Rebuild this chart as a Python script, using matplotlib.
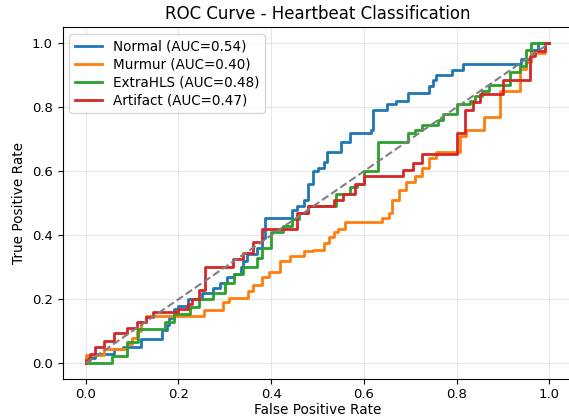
import matplotlib
matplotlib.use("Agg")
import matplotlib.pyplot as plt

# step corners: (fpr where the curve rises, tpr after the rise)
normal_fpr = [0, 0, 0.02, 0.06, 0.08, 0.12, 0.165, 0.175, 0.18, 0.19, 0.2, 0.22, 0.25, 0.275, 0.29,
              0.305, 0.32, 0.335, 0.34, 0.348, 0.37, 0.38, 0.387, 0.445, 0.455, 0.47, 0.48, 0.49,
              0.5, 0.515, 0.52, 0.55, 0.57, 0.615, 0.62, 0.65, 0.67, 0.695, 0.74, 0.75, 0.755,
              0.79, 0.815, 0.94, 0.96, 0.975, 1.0]
normal_tpr = [0, 0.015, 0.03, 0.045, 0.05, 0.075, 0.105, 0.12, 0.14, 0.17, 0.18, 0.2, 0.22, 0.235, 0.25,
              0.27, 0.28, 0.30, 0.32, 0.34, 0.36, 0.39, 0.455, 0.48, 0.49, 0.51, 0.56, 0.6,
              0.61, 0.63, 0.66, 0.69, 0.72, 0.73, 0.79, 0.81, 0.82, 0.845, 0.865, 0.885, 0.90,
              0.917, 0.935, 0.95, 0.98, 1.0, 1.0]

murmur_fpr = [0, 0, 0.04, 0.09, 0.1, 0.11, 0.12, 0.13, 0.255, 0.297, 0.31, 0.35, 0.36, 0.38, 0.395,
              0.42, 0.44, 0.47, 0.49, 0.515, 0.525, 0.535, 0.545, 0.56, 0.64, 0.655, 0.66, 0.675,
              0.69, 0.71, 0.725, 0.74, 0.755, 0.807, 0.82, 0.86, 0.894, 0.937, 0.95, 0.96, 0.99, 1.0]
murmur_tpr = [0, 0.025, 0.045, 0.06, 0.08, 0.1, 0.13, 0.147, 0.168, 0.19, 0.205, 0.225, 0.245, 0.27, 0.285,
              0.32, 0.335, 0.35, 0.355, 0.375, 0.395, 0.41, 0.42, 0.44, 0.455, 0.47, 0.51, 0.54,
              0.565, 0.585, 0.61, 0.64, 0.66, 0.71, 0.73, 0.77, 0.85, 0.92, 0.94, 0.97, 1.0, 1.0]

extrahls_fpr = [0, 0.057, 0.09, 0.113, 0.17, 0.19, 0.225, 0.245, 0.275, 0.3, 0.32, 0.34, 0.37, 0.38,
                0.4, 0.425, 0.445, 0.46, 0.48, 0.54, 0.57, 0.585, 0.6, 0.63, 0.695, 0.71, 0.725,
                0.76, 0.77, 0.8, 0.83, 0.84, 0.855, 0.87, 0.915, 0.937, 0.95, 0.96, 1.0]
extrahls_tpr = [0, 0.022, 0.065, 0.106, 0.13, 0.153, 0.175, 0.2, 0.22, 0.25, 0.28, 0.30, 0.33, 0.36,
                0.41, 0.43, 0.45, 0.47, 0.49, 0.53, 0.55, 0.56, 0.6, 0.69, 0.72, 0.73, 0.745,
                0.76, 0.78, 0.81, 0.82, 0.835, 0.85, 0.87, 0.91, 0.93, 0.98, 1.0, 1.0]

artifact_fpr = [0, 0, 0.01, 0.02, 0.04, 0.06, 0.09, 0.11, 0.13, 0.145, 0.2, 0.22, 0.23, 0.245, 0.258,
                0.318, 0.34, 0.36, 0.38, 0.455, 0.48, 0.535, 0.555, 0.58, 0.6, 0.685, 0.705, 0.725,
                0.80, 0.818, 0.836, 0.85, 0.9, 0.958, 0.97, 0.99, 1.0]
artifact_tpr = [0, 0.01, 0.03, 0.05, 0.07, 0.095, 0.11, 0.13, 0.145, 0.16, 0.17, 0.185, 0.2, 0.23, 0.30,
                0.325, 0.345, 0.38, 0.42, 0.47, 0.49, 0.51, 0.53, 0.56, 0.585, 0.605, 0.625, 0.655,
                0.72, 0.79, 0.815, 0.84, 0.885, 0.96, 0.975, 1.0, 1.0]

class_names = ["Normal", "Murmur", "ExtraHLS", "Artifact"]
auc_values = [0.54, 0.40, 0.48, 0.47]
curves = [(normal_fpr, normal_tpr), (murmur_fpr, murmur_tpr),
          (extrahls_fpr, extrahls_tpr), (artifact_fpr, artifact_tpr)]

fig = plt.figure(figsize=(5.69, 4.2), dpi=100)
ax = fig.add_axes([0.11, 0.097, 0.896, 0.838])

for name, auc, (fpr, tpr) in zip(class_names, auc_values, curves):
    ax.plot(fpr, tpr, drawstyle="steps-post", linewidth=2, label=f"{name} (AUC={auc:.2f})")

ax.plot([0, 1], [0, 1], linestyle="--", color="gray", linewidth=1.5)

ax.set_title("ROC Curve - Heartbeat Classification", fontsize=12)
ax.set_xlabel("False Positive Rate", fontsize=9.8, labelpad=1.5)
ax.set_ylabel("True Positive Rate", fontsize=9.8)
ax.tick_params(labelsize=9.5)
ax.tick_params(axis="x", pad=2.5)
ax.grid(True, alpha=0.3)
ax.legend(loc="upper left", fontsize=9.75, labelspacing=0.3)

fig.savefig("out.png", dpi=100)
